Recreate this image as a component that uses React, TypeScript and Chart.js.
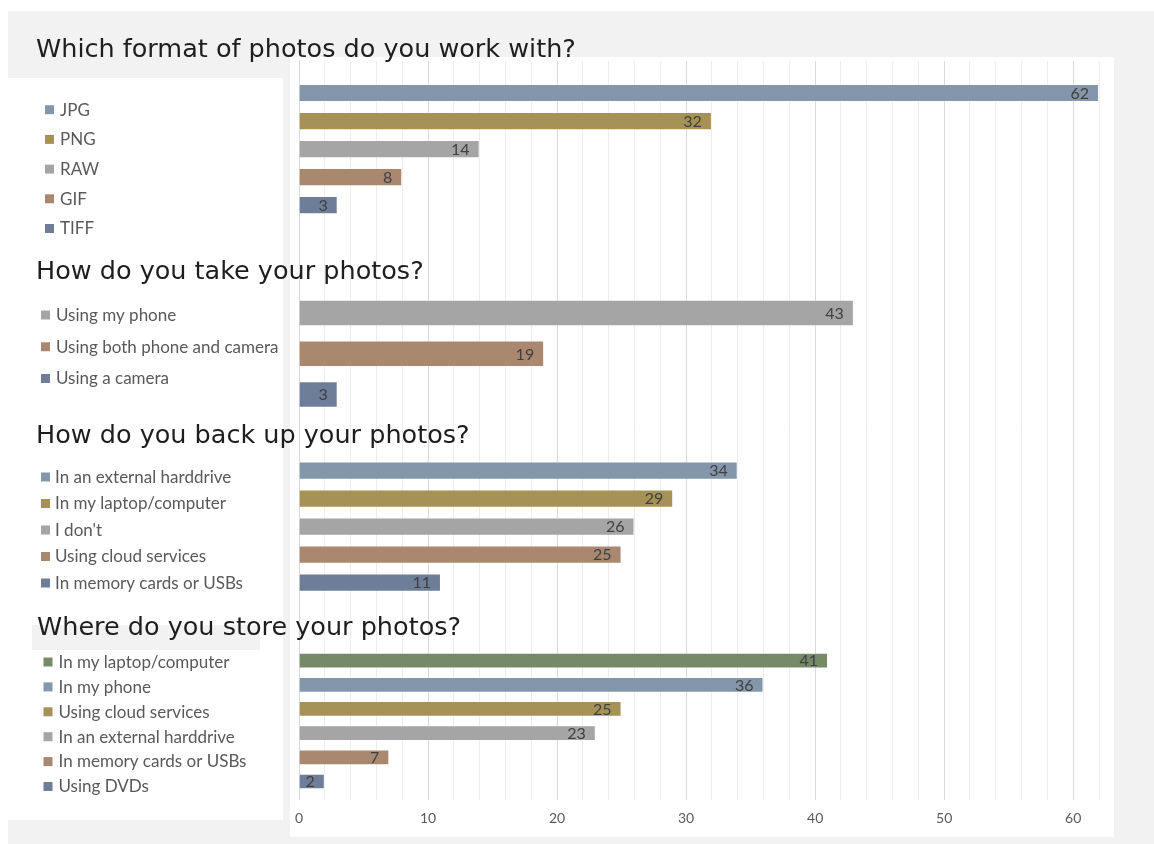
import React, { useEffect, useRef } from 'react';
import { Chart, registerables } from 'chart.js';

Chart.register(...registerables);

// ---------- data ----------
const titles = [
  'Which format of photos do you work with?',
  'How do you take your photos?',
  'How do you back up your photos?',
  'Where do you store your photos?',
];

const formatLabels = ['JPG', 'PNG', 'RAW', 'GIF', 'TIFF'];
const formatValues = [62, 32, 14, 8, 3];

const takeLabels = ['Using my phone', 'Using both phone and camera', 'Using a camera'];
const takeValues = [43, 19, 3];

const backupLabels = ['In an external harddrive', 'In my laptop/computer', "I don't", 'Using cloud services', 'In memory cards or USBs'];
const backupValues = [34, 29, 26, 25, 11];

const storeLabels = ['In my laptop/computer', 'In my phone', 'Using cloud services', 'In an external harddrive', 'In memory cards or USBs', 'Using DVDs'];
const storeValues = [41, 36, 25, 23, 7, 2];

const xMax = 62;
const xStep = 2;
const xLabelStep = 10;

// ---------- styles ----------
const BLUE = '#8497AA';
const OLIVE = '#A69257';
const GRAY = '#A5A5A5';
const BROWN = '#AA8870';
const SLATE = '#6E7E99';
const GREEN = '#758A67';

const formatColors = [BLUE, OLIVE, GRAY, BROWN, SLATE];
const takeColors = [GRAY, BROWN, SLATE];
const backupColors = [BLUE, OLIVE, GRAY, BROWN, SLATE];
const storeColors = [GREEN, BLUE, OLIVE, GRAY, BROWN, SLATE];

const groups = [
  { labels: formatLabels, values: formatValues, colors: formatColors },
  { labels: takeLabels, values: takeValues, colors: takeColors },
  { labels: backupLabels, values: backupValues, colors: backupColors },
  { labels: storeLabels, values: storeValues, colors: storeColors },
];

// ---------- layout (pixels) ----------
const W = 1154;
const H = 844;
// vertical bands of the plot: spacer, group1, spacer, group2, spacer, group3, spacer, group4, spacer
const bandWeights = [18, 140, 73.6, 122.2, 41.6, 140, 51.9, 145, 6.6];
const titlePos = [
  { x: 36, y: 57 },
  { x: 36, y: 278.5 },
  { x: 36, y: 442.5 },
  { x: 37, y: 635 },
];
const legendPos = [
  { sx: 45, tx: 60, y0: 109.7, dy: 29.7 },
  { sx: 41, tx: 56, y0: 315, dy: 31.75 },
  { sx: 41, tx: 55, y0: 477, dy: 26.5 },
  { sx: 43.5, tx: 58.5, y0: 662, dy: 24.9 },
];

const decorPlugin = {
  id: 'decor',
  beforeDraw(chart: any) {
    const ctx = chart.ctx;
    ctx.save();
    ctx.fillStyle = '#ffffff';
    ctx.fillRect(0, 0, W, H);
    ctx.fillStyle = '#f2f2f2';
    ctx.fillRect(8, 11, W - 8, H - 11);
    ctx.fillStyle = '#ffffff';
    ctx.fillRect(8, 78, 275, 742);
    ctx.fillRect(290, 57, 824, 780);
    ctx.fillStyle = '#f2f2f2';
    ctx.fillRect(32, 625, 228, 25);
    ctx.restore();
  },
  afterDraw(chart: any) {
    const ctx = chart.ctx;
    ctx.save();
    // value labels at the inside end of each bar
    ctx.font = '16px Lato';
    ctx.fillStyle = '#404040';
    ctx.textAlign = 'right';
    ctx.textBaseline = 'alphabetic';
    chart.getSortedVisibleDatasetMetas().forEach((meta: any) => {
      const ds = chart.data.datasets[meta.index];
      meta.data.forEach((el: any, i: number) => {
        ctx.fillText(String(ds.data[i]), el.x - 10, el.y + 5.8);
      });
    });
    // section titles
    ctx.textAlign = 'left';
    ctx.fillStyle = '#1e1e1e';
    ctx.font = '25.5px "DejaVu Sans"';
    titles.forEach((t, i) => ctx.fillText(t, titlePos[i].x, titlePos[i].y));
    // legends
    ctx.font = '17px Lato';
    groups.forEach((g, gi) => {
      const lp = legendPos[gi];
      g.labels.forEach((lab, i) => {
        const cy = lp.y0 + i * lp.dy;
        ctx.fillStyle = g.colors[i];
        ctx.fillRect(lp.sx, cy - 4.5, 9, 9);
        ctx.fillStyle = '#595959';
        ctx.fillText(lab, lp.tx, cy + 5.8);
      });
    });
    ctx.restore();
  },
};

export default function App() {
  const ref = useRef<HTMLCanvasElement>(null);

  useEffect(() => {
    if (!ref.current) return;
    const scales: any = {
      x: {
        type: 'linear',
        position: 'bottom',
        min: 0,
        max: xMax,
        border: { display: false },
        grid: {
          drawTicks: false,
          lineWidth: 1,
          color: (c: any) => (c.tick && c.tick.value % xLabelStep === 0 ? '#d9d9d9' : '#ededed'),
        },
        ticks: {
          stepSize: xStep,
          autoSkip: false,
          maxRotation: 0,
          padding: 10,
          color: '#595959',
          font: { family: 'Lato', size: 14 },
          callback: (v: any) => (Number(v) % xLabelStep === 0 ? String(v) : ''),
        },
      },
    };
    bandWeights.forEach((w, i) => {
      const isGroup = i % 2 === 1;
      scales['y' + i] = {
        type: 'category',
        labels: isGroup ? groups[(i - 1) / 2].labels : [''],
        position: 'left',
        stack: 'bands',
        stackWeight: w,
        weight: bandWeights.length - i,
        display: false,
        offset: true,
        grid: { display: false },
      };
    });

    const chart = new Chart(ref.current, {
      type: 'bar',
      data: {
        datasets: groups.map((g, gi) => ({
          label: titles[gi],
          data: g.values,
          backgroundColor: g.colors,
          borderColor: 'rgba(255,255,255,0.28)',
          borderWidth: 1,
          xAxisID: 'x',
          yAxisID: 'y' + (2 * gi + 1),
          grouped: false,
          barPercentage: 0.65,
          categoryPercentage: 1,
        })),
      },
      options: {
        indexAxis: 'y',
        animation: false,
        responsive: false,
        devicePixelRatio: 1,
        layout: { padding: { left: 299, right: W - 1099, top: 61, bottom: 7 } },
        plugins: { legend: { display: false }, tooltip: { enabled: false }, title: { display: false } },
        scales,
      },
      plugins: [decorPlugin],
    } as any);
    return () => chart.destroy();
  }, []);

  return (
    <div style={{ position: 'absolute', left: 0, top: 0, width: W, height: H }}>
      <canvas ref={ref} width={W} height={H} style={{ width: W, height: H, display: 'block' }} />
    </div>
  );
}
